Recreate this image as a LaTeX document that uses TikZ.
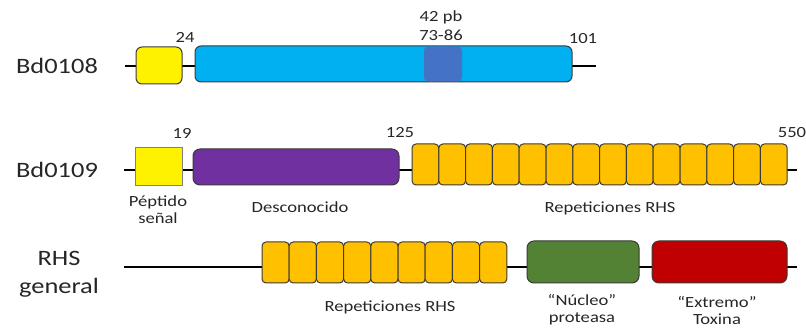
\documentclass[tikz,border=0pt]{standalone}
\usepackage{fontspec}
\setmainfont{Carlito}[FakeStretch=1.2]
\definecolor{cyanbox}{HTML}{00B0F0}
\definecolor{darkblue}{HTML}{4472C4}
\definecolor{purplebox}{HTML}{7030A0}
\definecolor{orangebox}{HTML}{FFC000}
\definecolor{greenbox}{HTML}{548235}
\definecolor{redbox}{HTML}{C00000}
\definecolor{edgegray}{HTML}{3A3A3A}
\definecolor{txt}{HTML}{262626}
\tikzset{
  backbone/.style={line width=2.8pt, black},
  dom/.style={draw=edgegray, line width=1pt, rounded corners=#1, inner sep=0pt},
  dom/.default=5pt,
  big/.style={font=\fontsize{22}{28}\selectfont, text=txt, align=center, inner sep=0pt},
  small/.style={font=\fontsize{15.5}{17}\selectfont, text=txt, align=center, inner sep=0pt},
  rep/.style={dom=4pt, fill=orangebox, minimum height=41pt},
}
\begin{document}
\begin{tikzpicture}[x=1pt,y=1pt]
\useasboundingbox (0,0) rectangle (806,328);
% ---- Row 1: Bd0108
\coordinate (a1) at (125,262);
\coordinate (a2) at (596,262);
\draw[backbone] (a1) -- (a2);
\node[dom=6pt, fill=yellow, minimum width=46pt, minimum height=37pt] (sp1) at (159,262.5) {};
\node[dom=6pt, fill=cyanbox, minimum width=377pt, minimum height=36pt] (main1) at (383.5,264) {};
\node[fill=darkblue, rounded corners=4pt, minimum width=38pt, minimum height=35pt, inner sep=0pt] (pb) at (443,264) {};
\node[big] (lab1) at (57,262) {Bd0108};
\node[small] (n24) at (185,291) {24};
\node[small] (n42) at (441,311) {42 pb};
\node[small] (n7386) at (441,293) {73-86};
\node[small] (n101) at (583,289) {101};
% ---- Row 2: Bd0109
\coordinate (b1) at (124,158);
\coordinate (b2) at (797,158);
\draw[backbone] (b1) -- (b2);
\node[draw=gray, line width=1pt, fill=yellow, minimum width=47pt, minimum height=38pt, inner sep=0pt] (sp2) at (158.5,161) {};
\node[dom=7pt, fill=purplebox, minimum width=206pt, minimum height=36pt] (unk) at (296,161) {};
\foreach \i in {0,...,13} {
  \node[rep, minimum width=26.8pt] (r2-\i) at ({412+26.8*\i+13.4},163.5) {};
}
\node[big] (lab2) at (57,158) {Bd0109};
\node[small] (n19) at (182,195) {19};
\node[small] (n125) at (400,195) {125};
\node[small] (n550) at (792,195) {550};
\node[small] (pep) at (158,118) {Péptido\\señal};
\node[small] (desc) at (300,121) {Desconocido};
\node[small] (rep2) at (610,120) {Repeticiones RHS};
% ---- Row 3: RHS general
\coordinate (c1) at (124,61);
\coordinate (c2) at (797,61);
\draw[backbone] (c1) -- (c2);
\foreach \i in {0,...,8} {
  \node[rep, minimum width=27.2pt] (r3-\i) at ({262+27.2*\i+13.6},65.5) {};
}
\node[dom=7pt, fill=greenbox, minimum width=112pt, minimum height=42pt] (nuc) at (583,66) {};
\node[dom=7pt, fill=redbox, minimum width=135pt, minimum height=42pt] (tox) at (719.5,66) {};
\node[big] (lab3) at (59,54) {RHS\\general};
\node[small] (rep3) at (390,21) {Repeticiones RHS};
\node[small] (nuct) at (582,18) {“Núcleo”\\proteasa};
\node[small] (toxt) at (717,18) {“Extremo”\\Toxina};
\end{tikzpicture}
\end{document}
